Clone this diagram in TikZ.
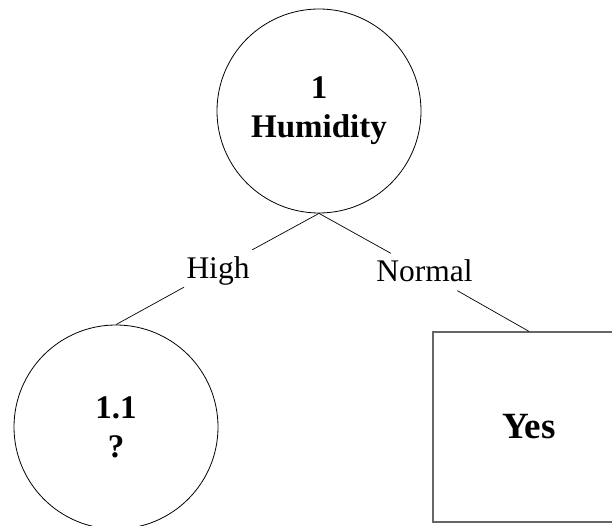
\documentclass[tikz,border=0pt]{standalone}
\usepackage{fontspec}
\setmainfont{Liberation Serif}
\begin{document}
\begin{tikzpicture}[x=1pt,y=-1pt,
  treecircle/.style={draw=black,line width=0.8pt,circle,minimum size=204pt,inner sep=0pt,align=center,
    font=\bfseries\fontsize{33}{39}\selectfont},
  leafbox/.style={draw=black!60,line width=1.2pt,rectangle,minimum width=192pt,minimum height=190pt,inner sep=0pt,
    font=\bfseries\fontsize{37}{42}\selectfont},
  edgelabel/.style={fill=white,inner xsep=3pt,inner ysep=0pt,minimum height=37pt,
    font=\fontsize{31.5}{36}\selectfont},
  edgeline/.style={draw=black,line width=0.7pt}]
\useasboundingbox (0,0) rectangle (612,526);
\clip (0,0) rectangle (612,526);
\node[treecircle] (root) at (319,111) {1\\Humidity};
\node[treecircle] (left) at (116,427) {1.1\\?};
\node[leafbox] (yes) at (529,427) {Yes};
\node[edgelabel,text height=21pt,text depth=0pt] (high) at (218,268.5) {High};
\node[edgelabel,text height=19.5pt,text depth=0pt,inner xsep=2pt] (normal) at (424.5,272) {Normal};
\draw[edgeline] (root.south) -- (high);
\draw[edgeline] (high) -- (left.north);
\draw[edgeline] (root.south) -- (normal);
\draw[edgeline] (normal) -- (yes.north);
\end{tikzpicture}
\end{document}
